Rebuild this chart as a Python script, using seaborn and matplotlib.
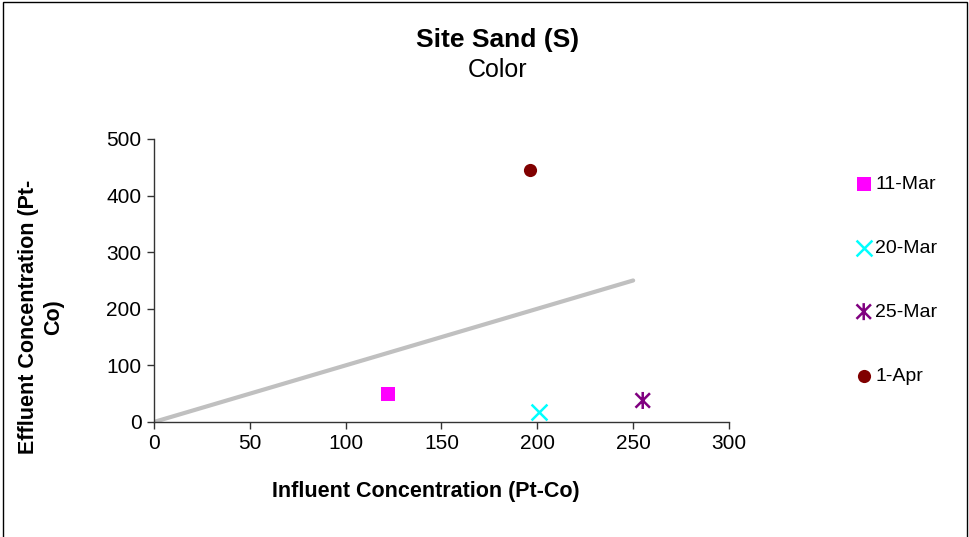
import numpy as np
import pandas as pd
import matplotlib
matplotlib.use("Agg")
import matplotlib.pyplot as plt
from matplotlib.patches import Rectangle
from matplotlib.path import Path
import seaborn as sns

# datos
dates = ["11-Mar", "20-Mar", "25-Mar", "1-Apr"]
influent = [122, 201, 255, 196]
effluent = [50, 18, 38, 445]
colors = ["#ff00ff", "#00ffff", "#800080", "#800000"]

line_x = [0, 250]
line_y = [0, 250]

# marcador estrella tipo Excel: X mas linea vertical
star = Path([(-0.85, -0.85), (0.85, 0.85), (-0.85, 0.85), (0.85, -0.85), (0, -1), (0, 1)],
            [Path.MOVETO, Path.LINETO, Path.MOVETO, Path.LINETO, Path.MOVETO, Path.LINETO])
markers = ["s", "x", star, "o"]
sizes = [90, 130, 150, 90]

sns.set_style("white")
plt.rcParams["font.family"] = ["Liberation Sans", "DejaVu Sans"]
plt.rcParams["text.color"] = "black"

fig = plt.figure(figsize=(9.69, 5.37), dpi=100)
ax = fig.add_axes([0.1589, 0.2142, 0.5934, 0.527])

# linea 1:1
sns.lineplot(x=line_x, y=line_y, ax=ax, color="#c0c0c0", linewidth=3, legend=False)

for d, xi, yi, c, m, s in zip(dates, influent, effluent, colors, markers, sizes):
    df = pd.DataFrame({"x": [xi], "y": [yi]})
    if m in ("s", "o"):
        sns.scatterplot(data=df, x="x", y="y", ax=ax, color=c, marker=m, s=s,
                        linewidth=0, label=d)
    elif m == "x":
        sns.scatterplot(data=df, x="x", y="y", ax=ax, color=c, marker=m, s=s,
                        linewidth=1.8, label=d)
    else:
        sns.scatterplot(data=df, x="x", y="y", ax=ax, marker=m, s=s, facecolor="none",
                        edgecolor=c, color=c, linewidth=1.8, label=d)

ax.set_xlim(0, 300)
ax.set_ylim(0, 500)
ax.set_xticks(np.arange(0, 301, 50))
ax.set_yticks(np.arange(0, 501, 100))
ax.tick_params(axis="both", direction="out", length=5, width=1, color="#333333",
               labelsize=15, labelcolor="black", bottom=True, left=True, pad=4)
for side in ["top", "right"]:
    ax.spines[side].set_visible(False)
for side in ["left", "bottom"]:
    ax.spines[side].set_color("#333333")
    ax.spines[side].set_linewidth(1)

ax.set_xlabel("")
ax.set_ylabel("")
fig.text(0.4396, 0.0838, "Influent Concentration (Pt-Co)", ha="center", va="center",
         fontsize=15.5, fontweight="bold")
fig.text(0.0423, 0.4097, "Effluent Concentration (Pt-\nCo)", ha="center", va="center",
         rotation=90, multialignment="center", fontsize=15.5, fontweight="bold",
         linespacing=1.25)

fig.text(0.513, 0.925, "Site Sand (S)", ha="center", va="center", fontsize=19, fontweight="bold")
fig.text(0.513, 0.870, "Color", ha="center", va="center", fontsize=18)

ax.legend(loc="center left", bbox_to_anchor=(854 / 969, 1 - 280 / 537),
          bbox_transform=fig.transFigure, frameon=False, fontsize=14,
          labelspacing=2.38, handletextpad=0.1, borderpad=0, handlelength=1,
          borderaxespad=0)

fig.patches.append(Rectangle((0.003, -0.02), 0.995, 1.016, transform=fig.transFigure,
                             fill=False, edgecolor="black", linewidth=1))

fig.savefig("out.png", dpi=100)
